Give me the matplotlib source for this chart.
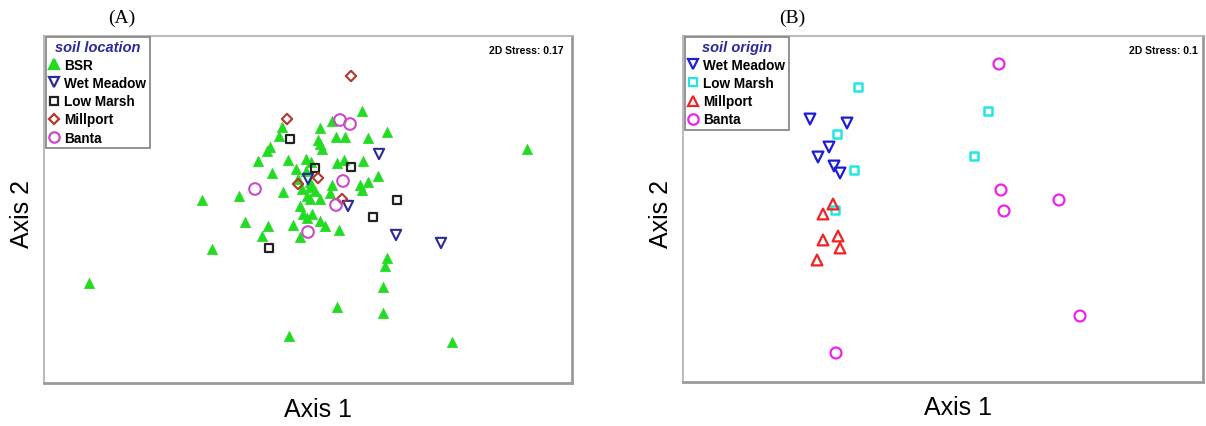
import matplotlib
matplotlib.use("Agg")
import matplotlib.pyplot as plt
from matplotlib.lines import Line2D

# ---------------- Panel A data (pixel-space ordination coordinates) -------------
bsr_x = [362, 332, 320, 282, 279, 318, 320, 322, 336, 345, 368, 387, 270, 267, 258, 288,
         306, 311, 337, 344, 363, 272, 378, 368, 360, 362, 332, 330, 320, 310, 302, 307,
         310, 283, 239, 202, 300, 303, 312, 307, 320, 325, 339, 293, 300, 268, 262, 245,
         212, 387, 385, 383, 89, 337, 383, 289, 452, 527, 306, 310, 296, 315, 298]
bsr_y = [112, 122, 129, 128, 137, 141, 145, 150, 138, 138, 139, 133, 148, 152, 162, 161,
         160, 163, 164, 161, 162, 174, 177, 183, 186, 191, 186, 194, 200, 188, 190, 197,
         200, 193, 197, 201, 207, 215, 215, 219, 222, 227, 231, 226, 238, 227, 237, 223,
         250, 259, 267, 288, 284, 308, 314, 337, 343, 150, 172, 183, 170, 192, 180]
wm_a_x = [379, 308, 348, 396, 441]
wm_a_y = [155, 180, 207, 236, 244]
lm_a_x = [290, 315, 351, 397, 373, 269]
lm_a_y = [140, 169, 168, 201, 218, 249]
mp_a_x = [351, 287, 298, 318, 342]
mp_a_y = [77, 120, 185, 179, 200]
bt_a_x = [340, 350, 343, 255, 336, 308]
bt_a_y = [121, 125, 182, 190, 206, 233]

# ---------------- Panel B data ----------------
wm_b_x = [810, 847, 829, 818, 834, 840]
wm_b_y = [120, 124, 148, 158, 167, 174]
lm_b_x = [858, 988, 837, 974, 854, 835]
lm_b_y = [88, 112, 135, 157, 171, 211]
mp_b_x = [833, 823, 838, 823, 840, 817]
mp_b_y = [205, 215, 237, 241, 249, 261]
bt_b_x = [999, 1001, 1004, 1059, 1080, 836]
bt_b_y = [65, 191, 212, 201, 317, 354]

legend_a = ["BSR", "Wet Meadow", "Low Marsh", "Millport", "Banta"]
legend_b = ["Wet Meadow", "Low Marsh", "Millport", "Banta"]

W, H = 1206, 427
fig = plt.figure(figsize=(W / 100, H / 100), dpi=100)

def make_ax(l, r, t, b):
    ax = fig.add_axes([l / W, 1 - b / H, (r - l) / W, (b - t) / H])
    ax.set_xlim(l, r)
    ax.set_ylim(b, t)
    ax.set_xticks([])
    ax.set_yticks([])
    for s in ["left", "top"]:
        ax.spines[s].set_color("#b4b4b4")
        ax.spines[s].set_linewidth(1.3)
    for s in ["right", "bottom"]:
        ax.spines[s].set_color("#9a9a9a")
        ax.spines[s].set_linewidth(2.0)
    return ax

axA = make_ax(44, 572, 37, 384)
axB = make_ax(683, 1203, 37, 383)

green = "#22dc22"
navyA = "#2b2b95"
blackA = "#222222"
redA = "#b5362a"
magA = "#c94bc9"

axA.scatter(bsr_x, bsr_y, marker="^", s=55, color=green, edgecolors=green, linewidths=0.5, zorder=3)
axA.scatter(wm_a_x, wm_a_y, marker="v", s=55, facecolors="none", edgecolors=navyA, linewidths=1.5, zorder=4)
axA.scatter(lm_a_x, lm_a_y, marker="s", s=38, facecolors="none", edgecolors=blackA, linewidths=1.6, zorder=4)
axA.scatter(mp_a_x, mp_a_y, marker="D", s=28, facecolors="none", edgecolors=redA, linewidths=1.5, zorder=4)
axA.scatter(bt_a_x, bt_a_y, marker="o", s=70, facecolors="none", edgecolors=magA, linewidths=1.5, zorder=4)

blueB = "#1c1cd8"
cyanB = "#22e6e6"
redB = "#ec2424"
magB = "#ee22ee"
axB.scatter(wm_b_x, wm_b_y, marker="v", s=60, facecolors="none", edgecolors=blueB, linewidths=1.6, zorder=4)
axB.scatter(lm_b_x, lm_b_y, marker="s", s=38, facecolors="none", edgecolors=cyanB, linewidths=1.8, zorder=4)
axB.scatter(mp_b_x, mp_b_y, marker="^", s=60, facecolors="none", edgecolors=redB, linewidths=1.6, zorder=4)
axB.scatter(bt_b_x, bt_b_y, marker="o", s=62, facecolors="none", edgecolors=magB, linewidths=1.6, zorder=4)

def make_legend(ax, labels, styles, title):
    handles = []
    for lab, (m, fc, ec, ms) in zip(labels, styles):
        handles.append(Line2D([], [], linestyle="none", marker=m, markerfacecolor=fc,
                              markeredgecolor=ec, markersize=ms, markeredgewidth=1.6, label=lab))
    leg = ax.legend(handles=handles, loc="upper left", bbox_to_anchor=(0.004, 0.998),
                    frameon=True, fancybox=False, framealpha=1, edgecolor="#8a8a8a",
                    borderpad=0.25, labelspacing=0.3, handlelength=0.7, handletextpad=0.4,
                    borderaxespad=0.0, title=title,
                    prop={"family": "Liberation Sans", "weight": "bold", "size": 9.8})
    leg.get_frame().set_linewidth(1.3)
    t = leg.get_title()
    t.set_color("#2a2a9a")
    t.set_fontstyle("italic")
    t.set_fontweight("bold")
    t.set_fontfamily("Liberation Sans")
    t.set_fontsize(10.5)
    return leg

make_legend(axA, legend_a,
            [("^", green, green, 7.5), ("v", "none", navyA, 7.5), ("s", "none", blackA, 6),
             ("D", "none", redA, 5.5), ("o", "none", magA, 7.5)], "soil location")
make_legend(axB, legend_b,
            [("v", "none", blueB, 7.5), ("s", "none", cyanB, 6), ("^", "none", redB, 7.5),
             ("o", "none", magB, 7.5)], "soil origin")

axA.text(0.985, 0.975, "2D Stress: 0.17", transform=axA.transAxes, ha="right", va="top",
         fontsize=7.5, fontweight="bold", family="Liberation Sans")
axB.text(0.99, 0.975, "2D Stress: 0.1", transform=axB.transAxes, ha="right", va="top",
         fontsize=7.5, fontweight="bold", family="Liberation Sans")

fig.text(122 / W, 1 - 18 / H, "(A)", ha="center", va="center", fontsize=14, family="Liberation Serif")
fig.text(792 / W, 1 - 18 / H, "(B)", ha="center", va="center", fontsize=14, family="Liberation Serif")
fig.text(318 / W, 1 - 410 / H, "Axis 1", ha="center", va="center", fontsize=18, family="Liberation Sans")
fig.text(958 / W, 1 - 408 / H, "Axis 1", ha="center", va="center", fontsize=18, family="Liberation Sans")
fig.text(22 / W, 1 - 214 / H, "Axis 2", ha="center", va="center", rotation=90, fontsize=18, family="Liberation Sans")
fig.text(661 / W, 1 - 214 / H, "Axis 2", ha="center", va="center", rotation=90, fontsize=18, family="Liberation Sans")

fig.savefig("out.png", dpi=100)
